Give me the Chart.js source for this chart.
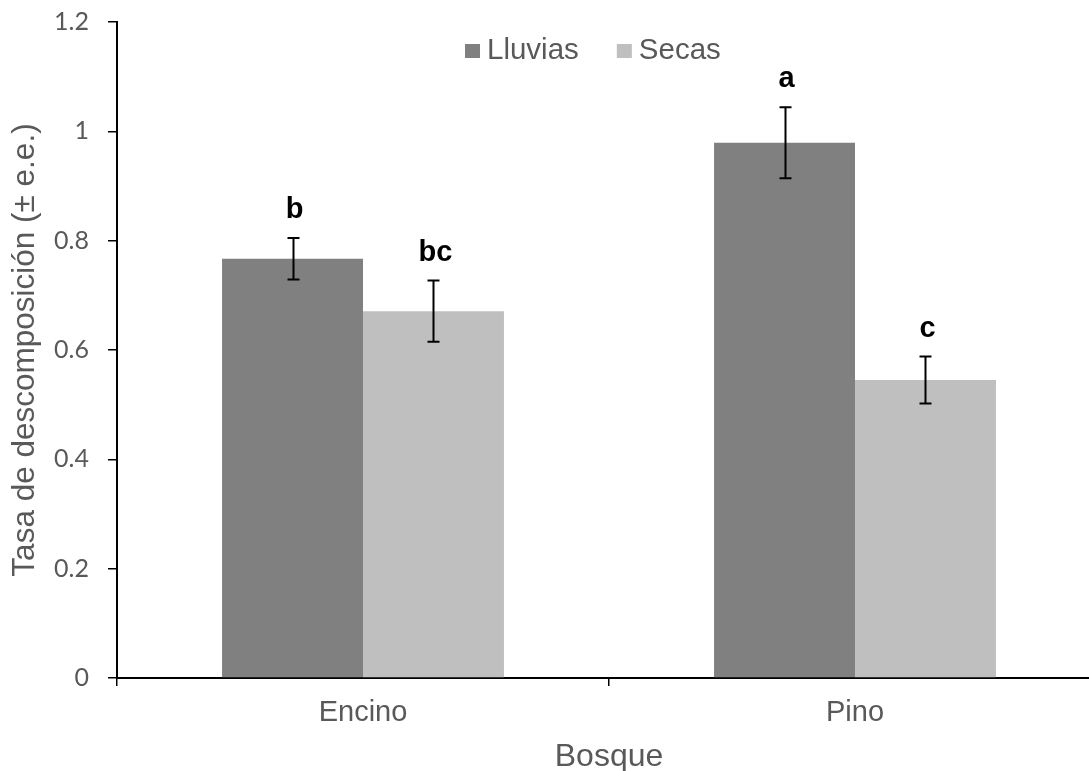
<!DOCTYPE html>
<html>
<head>
<meta charset="utf-8">
<script src="https://cdn.jsdelivr.net/npm/chart.js@4/dist/chart.umd.min.js"></script>
<style>
  html, body { margin: 0; padding: 0; background: #fff; overflow: hidden; }
  #wrap { width: 1102px; height: 771px; }
</style>
</head>
<body>
<div id="wrap"><canvas id="c" width="1102" height="771"></canvas></div>
<script>
// Tasa de descomposición por tipo de bosque y temporada
const categories = ['Encino', 'Pino'];
const seriesNames = ['Lluvias', 'Secas'];
const lluvias = [0.767, 0.979];
const secas = [0.671, 0.545];
const lluviasErr = [0.038, 0.065];
const secasErr = [0.056, 0.043];
const lluviasLetters = ['b', 'a'];
const secasLetters = ['bc', 'c'];
const yTicks = [0, 0.2, 0.4, 0.6, 0.8, 1, 1.2];

const GREY_TEXT = '#595959';
const ARIAL = '"Liberation Sans", Arial, sans-serif';

// Error bars (± e.e.) with significance letters above each bar
const errorBars = {
  id: 'errorBars',
  afterDatasetsDraw(chart) {
    const ctx = chart.ctx;
    const y = chart.scales.y;
    chart.data.datasets.forEach((ds, i) => {
      const meta = chart.getDatasetMeta(i);
      meta.data.forEach((bar, j) => {
        const v = ds.data[j], e = ds.errors[j];
        const top = y.getPixelForValue(v + e);
        const bot = y.getPixelForValue(v - e);
        const x = Math.round(bar.x) + 0.5;
        ctx.save();
        ctx.strokeStyle = '#000';
        ctx.lineWidth = 2;
        ctx.beginPath();
        ctx.moveTo(x, top); ctx.lineTo(x, bot);
        ctx.moveTo(x - 6, top); ctx.lineTo(x + 6, top);
        ctx.moveTo(x - 6, bot); ctx.lineTo(x + 6, bot);
        ctx.stroke();
        ctx.fillStyle = '#000';
        ctx.font = 'bold 29px ' + ARIAL;
        ctx.textAlign = 'center';
        ctx.textBaseline = 'alphabetic';
        ctx.fillText(ds.letters[j], bar.x + 2, top - 20);
        ctx.restore();
      });
    });
  }
};

// Legend drawn inside the plot area, top centre
const insideLegend = {
  id: 'insideLegend',
  afterDraw(chart) {
    const ctx = chart.ctx;
    ctx.save();
    ctx.font = '29.5px ' + ARIAL;
    ctx.textBaseline = 'middle';
    ctx.textAlign = 'left';
    let x = 465;
    const yMid = 51;
    chart.data.datasets.forEach((ds) => {
      ctx.fillStyle = ds.backgroundColor;
      ctx.fillRect(x, yMid - 7, 15, 14);
      ctx.fillStyle = GREY_TEXT;
      ctx.fillText(ds.label, x + 22, yMid);
      x += 22 + ctx.measureText(ds.label).width + 38;
    });
    ctx.restore();
  }
};

new Chart(document.getElementById('c'), {
  type: 'bar',
  data: {
    labels: categories,
    datasets: [
      { label: seriesNames[0], data: lluvias, errors: lluviasErr, letters: lluviasLetters,
        backgroundColor: '#808080', borderWidth: 0 },
      { label: seriesNames[1], data: secas, errors: secasErr, letters: secasLetters,
        backgroundColor: '#bfbfbf', borderWidth: 0 }
    ]
  },
  options: {
    responsive: false,
    animation: false,
    devicePixelRatio: 1,
    layout: { padding: { top: 22, right: 1, left: 0, bottom: 0 } },
    datasets: { bar: { categoryPercentage: 0.573, barPercentage: 1.0 } },
    plugins: {
      legend: { display: false },
      tooltip: { enabled: false }
    },
    scales: {
      x: {
        afterFit(s) { s.height = 93; },
        grid: { offset: true, drawOnChartArea: false, drawTicks: true, tickLength: 8,
                color: '#000', lineWidth: 1.5 },
        border: { display: true, color: '#000', width: 2 },
        ticks: { color: GREY_TEXT, font: { family: ARIAL, size: 29 }, padding: 10 },
        title: { display: true, text: 'Bosque', color: GREY_TEXT,
                 font: { family: ARIAL, size: 32, lineHeight: 1.0 }, padding: { top: 0, bottom: -2 } }
      },
      y: {
        min: 0,
        max: 1.2,
        afterFit(s) { s.width = 117; s.paddingTop = 0; s.paddingBottom = 0; },
        afterBuildTicks(s) { s.ticks = yTicks.map(v => ({ value: v })); },
        grid: { drawOnChartArea: false, drawTicks: true, tickLength: 9, color: '#000', lineWidth: 1.5 },
        border: { display: true, color: '#000', width: 2 },
        ticks: { color: GREY_TEXT, font: { family: 'Lato, "Open Sans", sans-serif', size: 25 }, padding: 19,
                 callback: (v) => String(v) },
        title: { display: true, text: 'Tasa de descomposición (± e.e.)', color: GREY_TEXT,
                 font: { family: ARIAL, size: 31.5 }, padding: { top: 6, bottom: 0 } }
      }
    }
  },
  plugins: [errorBars, insideLegend]
});
</script>
</body>
</html>
